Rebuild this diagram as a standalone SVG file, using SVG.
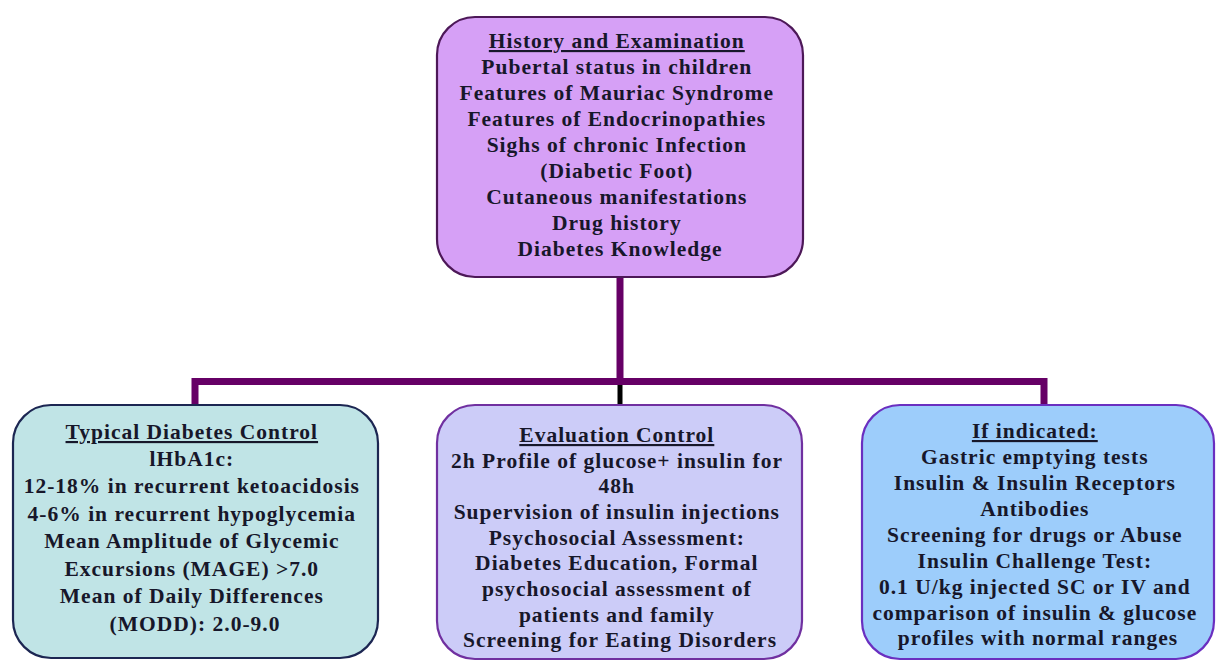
<svg xmlns="http://www.w3.org/2000/svg" width="1216" height="661" viewBox="0 0 1216 661">
<style>
.box{stroke-width:2.2}
.t{font-family:"Liberation Serif","Times New Roman",serif;font-weight:bold;font-size:21.5px;letter-spacing:1px;fill:#17172a;text-anchor:middle}
.h{text-decoration:underline}
.c{fill:none;stroke:#660066;stroke-width:7;stroke-linecap:butt}
</style>
<rect width="1216" height="661" fill="#ffffff"/>
<g id="connectors">
<path class="c" d="M620 277 V381"/>
<path class="c" d="M195 405 V381.5 H1044 V405"/>
<path d="M620 385 V405" stroke="#000000" stroke-width="5" fill="none"/>
</g>
<g id="history">
<rect class="box" x="437" y="17" width="366" height="260" rx="38" ry="38" fill="#d6a0f6" stroke="#4d1858"/>
<text class="t" x="620">
<tspan class="h" x="620" y="48">History and Examination</tspan>
<tspan x="620" y="74">Pubertal status in children</tspan>
<tspan x="620" y="100">Features of Mauriac Syndrome</tspan>
<tspan x="620" y="126">Features of Endocrinopathies</tspan>
<tspan x="620" y="152">Sighs of chronic Infection</tspan>
<tspan x="620" y="178">(Diabetic Foot)</tspan>
<tspan x="620" y="204">Cutaneous manifestations</tspan>
<tspan x="620" y="230">Drug history</tspan>
<tspan x="620" y="256">Diabetes Knowledge</tspan>
</text>
</g>
<g id="typical">
<rect class="box" x="13" y="405" width="365" height="253" rx="38" ry="38" fill="#c0e4e6" stroke="#1c2652"/>
<text class="t">
<tspan class="h" x="195" y="439">Typical Diabetes Control</tspan>
<tspan x="195" y="466">lHbA1c:</tspan>
<tspan x="195" y="493">12-18% in recurrent ketoacidosis</tspan>
<tspan x="195" y="521">4-6% in recurrent hypoglycemia</tspan>
<tspan x="195" y="548">Mean Amplitude of Glycemic</tspan>
<tspan x="195" y="576">Excursions (MAGE) &gt;7.0</tspan>
<tspan x="195" y="603">Mean of Daily Differences</tspan>
<tspan x="195" y="631">(MODD): 2.0-9.0</tspan>
</text>
</g>
<g id="evaluation">
<rect class="box" x="437" y="405" width="365" height="254" rx="38" ry="38" fill="#ccccf8" stroke="#7030a0"/>
<text class="t">
<tspan class="h" x="620" y="442">Evaluation Control</tspan>
<tspan x="620" y="468">2h Profile of glucose+ insulin for</tspan>
<tspan x="620" y="493">48h</tspan>
<tspan x="620" y="519">Supervision of insulin injections</tspan>
<tspan x="620" y="545">Psychosocial Assessment:</tspan>
<tspan x="620" y="570">Diabetes Education, Formal</tspan>
<tspan x="620" y="596">psychosocial assessment of</tspan>
<tspan x="620" y="622">patients and family</tspan>
<tspan x="620" y="647">Screening for Eating Disorders</tspan>
</text>
</g>
<g id="indicated">
<rect class="box" x="862" y="405" width="352" height="254" rx="38" ry="38" fill="#9dcdfb" stroke="#6a2fc0"/>
<text class="t">
<tspan class="h" x="1038" y="438">If indicated:</tspan>
<tspan x="1038" y="464">Gastric emptying tests</tspan>
<tspan x="1038" y="490">Insulin &amp; Insulin Receptors</tspan>
<tspan x="1038" y="516">Antibodies</tspan>
<tspan x="1038" y="542">Screening for drugs or Abuse</tspan>
<tspan x="1038" y="568">Insulin Challenge Test:</tspan>
<tspan x="1038" y="594">0.1 U/kg injected SC or IV and</tspan>
<tspan x="1038" y="620">comparison of insulin &amp; glucose</tspan>
<tspan x="1038" y="645">profiles with normal ranges</tspan>
</text>
</g>
</svg>
